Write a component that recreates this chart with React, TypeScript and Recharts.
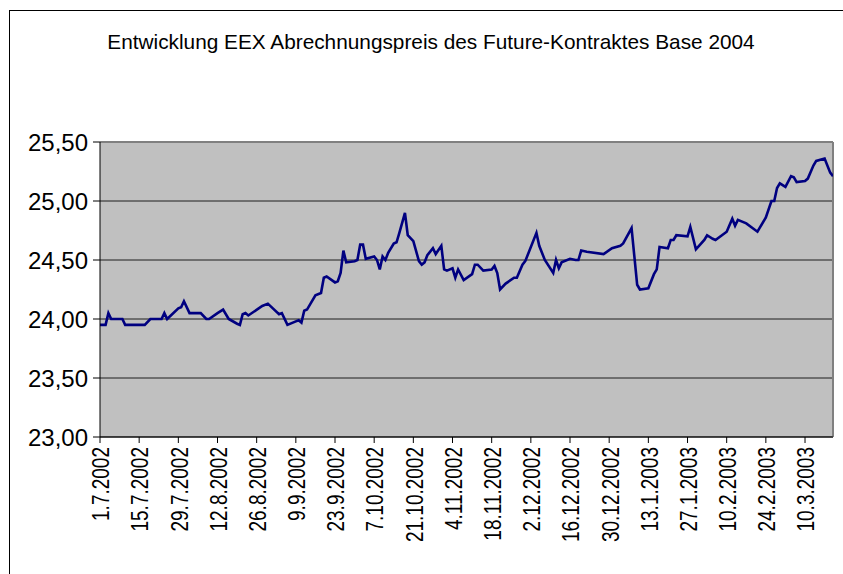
import React from 'react';
import { LineChart, Line, XAxis, YAxis, CartesianGrid, ReferenceLine } from 'recharts';

const chartTitle = 'Entwicklung EEX Abrechnungspreis des Future-Kontraktes Base 2004';

// settlement dates (d.m.yyyy) and prices
const dates = [
    '1.7.2002', '3.7.2002', '4.7.2002', '5.7.2002', '9.7.2002', '10.7.2002', '17.7.2002', '19.7.2002',
    '23.7.2002', '24.7.2002', '25.7.2002', '29.7.2002', '30.7.2002', '31.7.2002', '2.8.2002', '6.8.2002',
    '8.8.2002', '9.8.2002', '12.8.2002', '14.8.2002', '16.8.2002', '19.8.2002', '20.8.2002', '21.8.2002',
    '22.8.2002', '23.8.2002', '28.8.2002', '30.8.2002', '3.9.2002', '4.9.2002', '6.9.2002', '9.9.2002',
    '10.9.2002', '11.9.2002', '12.9.2002', '13.9.2002', '16.9.2002', '18.9.2002', '19.9.2002', '20.9.2002',
    '23.9.2002', '24.9.2002', '25.9.2002', '26.9.2002', '27.9.2002', '30.9.2002', '1.10.2002', '2.10.2002',
    '3.10.2002', '4.10.2002', '7.10.2002', '8.10.2002', '9.10.2002', '10.10.2002', '11.10.2002', '12.10.2002',
    '14.10.2002', '15.10.2002', '16.10.2002', '18.10.2002', '19.10.2002', '21.10.2002', '23.10.2002', '24.10.2002',
    '25.10.2002', '26.10.2002', '28.10.2002', '29.10.2002', '31.10.2002', '1.11.2002', '2.11.2002', '4.11.2002',
    '5.11.2002', '6.11.2002', '8.11.2002', '11.11.2002', '12.11.2002', '13.11.2002', '15.11.2002', '18.11.2002',
    '19.11.2002', '20.11.2002', '21.11.2002', '23.11.2002', '26.11.2002', '27.11.2002', '29.11.2002', '30.11.2002',
    '4.12.2002', '5.12.2002', '7.12.2002', '10.12.2002', '11.12.2002', '12.12.2002', '13.12.2002', '16.12.2002',
    '18.12.2002', '19.12.2002', '20.12.2002', '22.12.2002', '28.12.2002', '31.12.2002', '3.1.2003', '4.1.2003',
    '7.1.2003', '8.1.2003', '9.1.2003', '10.1.2003', '13.1.2003', '15.1.2003', '16.1.2003', '17.1.2003',
    '20.1.2003', '21.1.2003', '22.1.2003', '23.1.2003', '27.1.2003', '28.1.2003', '30.1.2003', '2.2.2003',
    '3.2.2003', '5.2.2003', '6.2.2003', '10.2.2003', '12.2.2003', '13.2.2003', '14.2.2003', '17.2.2003',
    '21.2.2003', '22.2.2003', '24.2.2003', '26.2.2003', '27.2.2003', '28.2.2003', '1.3.2003', '3.3.2003',
    '5.3.2003', '6.3.2003', '7.3.2003', '10.3.2003', '11.3.2003', '13.3.2003', '14.3.2003', '17.3.2003',
    '19.3.2003', '20.3.2003',
];

const prices = [
    23.95, 23.95, 24.05, 24.00, 24.00, 23.95, 23.95, 24.00,
    24.00, 24.05, 24.00, 24.09, 24.10, 24.15, 24.05, 24.05,
    24.00, 24.00, 24.05, 24.08, 24.00, 23.96, 23.95, 24.04,
    24.05, 24.03, 24.11, 24.13, 24.04, 24.05, 23.95, 23.98,
    23.99, 23.97, 24.07, 24.08, 24.20, 24.22, 24.35, 24.36,
    24.31, 24.32, 24.39, 24.58, 24.48, 24.49, 24.50, 24.63,
    24.63, 24.51, 24.53, 24.50, 24.42, 24.53, 24.50, 24.56,
    24.64, 24.65, 24.73, 24.90, 24.71, 24.66, 24.49, 24.46,
    24.48, 24.54, 24.60, 24.55, 24.62, 24.42, 24.41, 24.43,
    24.35, 24.42, 24.33, 24.38, 24.46, 24.46, 24.41, 24.42,
    24.45, 24.39, 24.25, 24.30, 24.35, 24.35, 24.46, 24.49,
    24.73, 24.62, 24.50, 24.39, 24.50, 24.43, 24.48, 24.51,
    24.50, 24.50, 24.58, 24.57, 24.55, 24.60, 24.62, 24.64,
    24.77, 24.53, 24.29, 24.25, 24.26, 24.38, 24.42, 24.61,
    24.60, 24.67, 24.67, 24.71, 24.70, 24.78, 24.59, 24.67,
    24.71, 24.68, 24.67, 24.74, 24.85, 24.79, 24.84, 24.81,
    24.74, 24.78, 24.86, 25.00, 25.00, 25.11, 25.15, 25.12,
    25.21, 25.20, 25.16, 25.17, 25.19, 25.30, 25.34, 25.36,
    25.24, 25.21,
];

const xTickLabels = [
    '1.7.2002', '15.7.2002', '29.7.2002', '12.8.2002', '26.8.2002', '9.9.2002', '23.9.2002',
    '7.10.2002', '21.10.2002', '4.11.2002', '18.11.2002', '2.12.2002', '16.12.2002', '30.12.2002',
    '13.1.2003', '27.1.2003', '10.2.2003', '24.2.2003', '10.3.2003',
];

const yTicks = [23.0, 23.5, 24.0, 24.5, 25.0, 25.5];

const FONT = '"Liberation Sans", Arial, sans-serif';

// days since the first settlement date
const toDay = (s: string) => {
    const [d, m, y] = s.split('.').map(Number);
    return Math.round((Date.UTC(y, m - 1, d) - Date.UTC(2002, 6, 1)) / 86400000);
};

const data = dates.map((d, i) => ({ day: toDay(d), price: prices[i] }));
const xTicks = xTickLabels.map(toDay);
const lastDay = data[data.length - 1].day;

const labelForDay = (day: number) => {
    const t = new Date(Date.UTC(2002, 6, 1) + day * 86400000);
    return `${t.getUTCDate()}.${t.getUTCMonth() + 1}.${t.getUTCFullYear()}`;
};

// eslint-disable-next-line @typescript-eslint/no-explicit-any
const renderXTick = (props: any) => {
    const { x, y, payload } = props;
    return (
        <text
            transform={`translate(${x + 1},${y}) rotate(-90) scale(1,1.25)`}
            textAnchor="end"
            dy="0.35em"
            fontSize={19}
            fontFamily={FONT}
            fill="#000"
        >
            {labelForDay(payload.value)}
        </text>
    );
};

export default function App() {
    return (
        <div style={{ position: 'relative', width: 843, height: 574, overflow: 'hidden', background: '#fff' }}>
            <style>{'body{margin:0;overflow:hidden;}'}</style>
            <div
                style={{
                    position: 'absolute',
                    left: 9,
                    top: 10,
                    width: 860,
                    height: 600,
                    border: '1px solid #000',
                }}
            />
            <div
                style={{
                    position: 'absolute',
                    left: 31,
                    top: 30,
                    width: 800,
                    textAlign: 'center',
                    fontFamily: FONT,
                    fontSize: 20.8,
                    lineHeight: '24px',
                    color: '#000',
                }}
            >
                {chartTitle}
            </div>
            <div style={{ position: 'absolute', left: 0, top: 0 }}>
                <LineChart
                    width={843}
                    height={574}
                    data={data}
                    margin={{ top: 142, right: 10, left: 0, bottom: 7 }}
                >
                    <CartesianGrid vertical={false} fill="#c0c0c0" stroke="#000" strokeOpacity={0.85} />
                    <XAxis
                        dataKey="day"
                        type="number"
                        domain={[0, lastDay]}
                        ticks={xTicks}
                        interval={0}
                        height={130}
                        tick={renderXTick}
                        tickSize={6}
                        tickMargin={4}
                        stroke="#000"
                        allowDataOverflow
                    />
                    <YAxis
                        domain={[23, 25.5]}
                        ticks={yTicks}
                        interval={0}
                        width={100}
                        tickSize={7}
                        tickMargin={5}
                        stroke="#000"
                        tick={{ fill: '#000', fontSize: 24, fontFamily: FONT }}
                        tickFormatter={(v: number) => v.toFixed(2).replace('.', ',')}
                    />
                    <ReferenceLine y={25.5} stroke="#808080" strokeWidth={2} />
                    <ReferenceLine x={lastDay} stroke="#808080" strokeWidth={2} />
                    <Line
                        type="linear"
                        dataKey="price"
                        stroke="#000080"
                        strokeWidth={2.6}
                        dot={false}
                        isAnimationActive={false}
                    />
                </LineChart>
            </div>
        </div>
    );
}
